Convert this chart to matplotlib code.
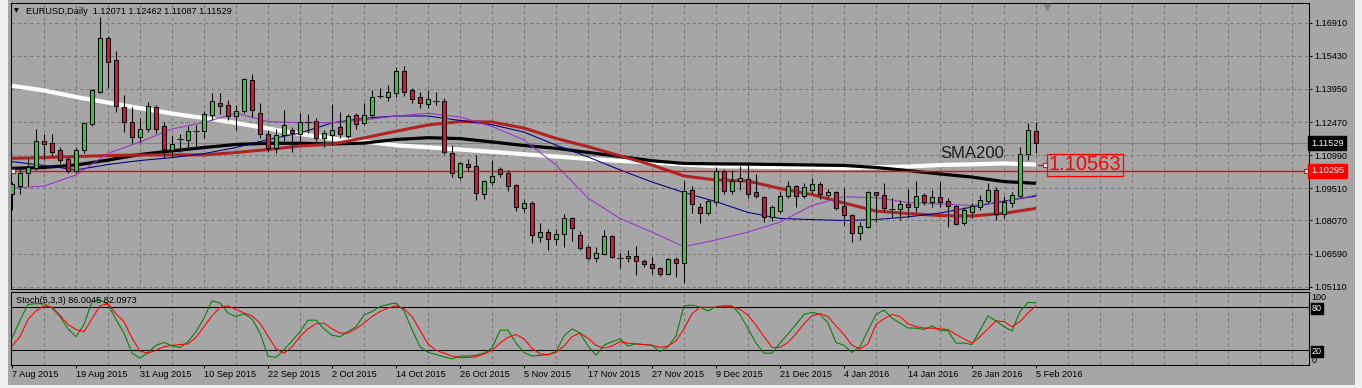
import matplotlib
matplotlib.use('Agg')
import matplotlib.pyplot as plt
from matplotlib.patches import Rectangle
import numpy as np

plt.rcParams['font.family'] = ['Liberation Sans', 'DejaVu Sans']

# EURUSD daily bars, 7 Aug 2015 .. 5 Feb 2016
opens = [1.0925, 1.0962, 1.1021, 1.1043, 1.1161, 1.1152, 1.1122, 1.1080, 1.1027, 1.1121,
         1.1240, 1.1380, 1.1621, 1.1523, 1.1313, 1.1246, 1.1179, 1.1215, 1.1313, 1.1228,
         1.1123, 1.1170, 1.1167, 1.1209, 1.1208, 1.1280, 1.1332, 1.1323, 1.1273, 1.1295,
         1.1434, 1.1286, 1.1192, 1.1130, 1.1188, 1.1210, 1.1195, 1.1249, 1.1250, 1.1177,
         1.1190, 1.1223, 1.1186, 1.1277, 1.1241, 1.1277, 1.1363, 1.1360, 1.1378, 1.1474,
         1.1389, 1.1358, 1.1329, 1.1342, 1.1340, 1.1107, 1.1003, 1.1058, 1.1049, 1.0924,
         1.0980, 1.1037, 1.1018, 1.0964, 1.0864, 1.0884, 1.0732, 1.0754, 1.0726, 1.0746,
         1.0817, 1.0741, 1.0687, 1.0641, 1.0658, 1.0736, 1.0641, 1.0638, 1.0648, 1.0626,
         1.0611, 1.0594, 1.0566, 1.0635, 1.0616, 1.0942, 1.0869, 1.0839, 1.0891, 1.1028,
         1.0940, 1.0985, 1.0992, 1.0934, 1.0911, 1.0824, 1.0851, 1.0915, 1.0960, 1.0915,
         1.0942, 1.0970, 1.0920, 1.0934, 1.0870, 1.0830, 1.0750, 1.0779, 1.0934, 1.0921,
         1.0860, 1.0858, 1.0881, 1.0866, 1.0920, 1.0891, 1.0911, 1.0894, 1.0873, 1.0794,
         1.0846, 1.0869, 1.0895, 1.0943, 1.0835, 1.0887, 1.0916, 1.1104, 1.12071]
highs = [1.0979, 1.1040, 1.1092, 1.1216, 1.1192, 1.1192, 1.1134, 1.1092, 1.1137, 1.1249,
         1.1393, 1.1715, 1.1632, 1.1566, 1.1368, 1.1313, 1.1264, 1.1335, 1.1323, 1.1246,
         1.1189, 1.1192, 1.1229, 1.1232, 1.1298, 1.1378, 1.1378, 1.1346, 1.1323, 1.1443,
         1.1462, 1.1331, 1.1211, 1.1216, 1.1301, 1.1226, 1.1286, 1.1283, 1.1264, 1.1211,
         1.1326, 1.1293, 1.1282, 1.1289, 1.1333, 1.1390, 1.1398, 1.1413, 1.1494, 1.1497,
         1.1398, 1.1380, 1.1390, 1.1380, 1.1353, 1.1144, 1.1070, 1.1080, 1.1100, 1.0988,
         1.1077, 1.1045, 1.1033, 1.0969, 1.0902, 1.0895, 1.0796, 1.0768, 1.0771, 1.0836,
         1.0821, 1.0760, 1.0697, 1.0687, 1.0764, 1.0742, 1.0660, 1.0675, 1.0693, 1.0633,
         1.0642, 1.0600, 1.0639, 1.0645, 1.0983, 1.0961, 1.0886, 1.0903, 1.1047, 1.1036,
         1.1033, 1.1050, 1.1055, 1.1015, 1.0916, 1.0876, 1.0940, 1.0985, 1.0966, 1.0973,
         1.0996, 1.0980, 1.0946, 1.0940, 1.0951, 1.0836, 1.0802, 1.0940, 1.0936, 1.0976,
         1.0906, 1.0899, 1.0948, 1.0985, 1.0931, 1.0943, 1.0980, 1.0906, 1.0876, 1.0866,
         1.0884, 1.0921, 1.0973, 1.0955, 1.0916, 1.0936, 1.1137, 1.1244, 1.12462]
lows = [1.0854, 1.0925, 1.0961, 1.1033, 1.1077, 1.1095, 1.1063, 1.1018, 1.1021, 1.1107,
        1.1231, 1.1375, 1.1399, 1.1293, 1.1204, 1.1155, 1.1159, 1.1204, 1.1197, 1.1088,
        1.1092, 1.1115, 1.1122, 1.1137, 1.1174, 1.1256, 1.1283, 1.1256, 1.1211, 1.1286,
        1.1271, 1.1174, 1.1114, 1.1107, 1.1164, 1.1114, 1.1152, 1.1197, 1.1159, 1.1137,
        1.1144, 1.1174, 1.1174, 1.1215, 1.1234, 1.1264, 1.1353, 1.1342, 1.1360, 1.1363,
        1.1333, 1.1308, 1.1308, 1.1323, 1.1103, 1.1000, 1.0991, 1.1029, 1.0899, 1.0903,
        1.0966, 1.1000, 1.0939, 1.0849, 1.0845, 1.0708, 1.0709, 1.0675, 1.0697, 1.0690,
        1.0715, 1.0675, 1.0630, 1.0620, 1.0653, 1.0641, 1.0596, 1.0620, 1.0563, 1.0600,
        1.0568, 1.0560, 1.0563, 1.0553, 1.0529, 1.0839, 1.0797, 1.0831, 1.0876, 1.0925,
        1.0925, 1.0943, 1.0906, 1.0906, 1.0802, 1.0806, 1.0839, 1.0906, 1.0869, 1.0906,
        1.0928, 1.0902, 1.0909, 1.0854, 1.0785, 1.0712, 1.0720, 1.0775, 1.0802, 1.0846,
        1.0821, 1.0809, 1.0824, 1.0846, 1.0876, 1.0869, 1.0869, 1.0779, 1.0787, 1.0787,
        1.0817, 1.0854, 1.0884, 1.0809, 1.0817, 1.0869, 1.0906, 1.1077, 1.11087]
closes = [1.0970, 1.1018, 1.1046, 1.1162, 1.1150, 1.1112, 1.1079, 1.1027, 1.1121, 1.1241,
          1.1389, 1.1621, 1.1514, 1.1317, 1.1246, 1.1181, 1.1216, 1.1317, 1.1216, 1.1125,
          1.1147, 1.1170, 1.1206, 1.1209, 1.1283, 1.1341, 1.1317, 1.1273, 1.1296, 1.1439,
          1.1300, 1.1192, 1.1132, 1.1189, 1.1232, 1.1197, 1.1247, 1.1249, 1.1177, 1.1197,
          1.1211, 1.1192, 1.1273, 1.1237, 1.1278, 1.1358, 1.1363, 1.1380, 1.1474, 1.1383,
          1.1349, 1.1331, 1.1349, 1.1342, 1.1112, 1.1018, 1.1063, 1.1047, 1.0928, 1.0983,
          1.1004, 1.1016, 1.0962, 1.0866, 1.0884, 1.0742, 1.0755, 1.0726, 1.0747, 1.0817,
          1.0772, 1.0684, 1.0641, 1.0660, 1.0736, 1.0645, 1.0641, 1.0647, 1.0625, 1.0611,
          1.0593, 1.0566, 1.0635, 1.0616, 1.0940, 1.0879, 1.0839, 1.0893, 1.1028, 1.0940,
          1.0982, 1.0997, 1.0927, 1.0915, 1.0824, 1.0866, 1.0915, 1.0960, 1.0915, 1.0955,
          1.0970, 1.0924, 1.0934, 1.0864, 1.0830, 1.0750, 1.0782, 1.0934, 1.0920, 1.0861,
          1.0860, 1.0881, 1.0866, 1.0915, 1.0891, 1.0911, 1.0891, 1.0873, 1.0790, 1.0854,
          1.0872, 1.0898, 1.0943, 1.0835, 1.0890, 1.0921, 1.1104, 1.1210, 1.11529]

# moving averages, read every 4th bar
ma_bars = list(range(0, 129, 4))
sma200 = [1.1409, 1.1388, 1.1359, 1.1334, 1.1309, 1.1285, 1.1265, 1.1243, 1.1218, 1.1194,
          1.1173, 1.1160, 1.1143, 1.1134, 1.1124, 1.1114, 1.1103, 1.1093, 1.1082, 1.1073,
          1.1066, 1.1057, 1.1050, 1.1048, 1.1046, 1.1045, 1.1042, 1.1045, 1.1048, 1.1055,
          1.1058, 1.1062, 1.1057]
ma_black = [1.1040, 1.1044, 1.1055, 1.1077, 1.1102, 1.1118, 1.1133, 1.1147, 1.1152, 1.1152,
            1.1149, 1.1153, 1.1169, 1.1177, 1.1173, 1.1158, 1.1142, 1.1130, 1.1111, 1.1093,
            1.1074, 1.1062, 1.1060, 1.1059, 1.1057, 1.1055, 1.1053, 1.1044, 1.1030, 1.1015,
            1.1001, 1.0981, 1.0973]
ma_red = [1.1085, 1.1088, 1.1093, 1.1097, 1.1100, 1.1100, 1.1100, 1.1111, 1.1124, 1.1140,
          1.1148, 1.1176, 1.1206, 1.1234, 1.1249, 1.1247, 1.1220, 1.1174, 1.1137, 1.1096,
          1.1055, 1.1006, 1.0988, 1.0983, 1.0950, 1.0923, 1.0885, 1.0849, 1.0838, 1.0829,
          1.0827, 1.0839, 1.0861]
ma_navy = [1.1070, 1.1053, 1.1033, 1.1057, 1.1075, 1.1088, 1.1106, 1.1133, 1.1169, 1.1198,
           1.1243, 1.1264, 1.1274, 1.1274, 1.1254, 1.1235, 1.1202, 1.1144, 1.1091, 1.1033,
           1.0979, 1.0932, 1.0891, 1.0843, 1.0816, 1.0811, 1.0807, 1.0811, 1.0823, 1.0840,
           1.0867, 1.0894, 1.0916]
ma_purple = [1.0951, 1.0961, 1.1010, 1.1107, 1.1158, 1.1216, 1.1245, 1.1287, 1.1249, 1.1244,
             1.1244, 1.1256, 1.1274, 1.1286, 1.1270, 1.1227, 1.1167, 1.1055, 1.0907, 1.0816,
             1.0755, 1.0690, 1.0720, 1.0755, 1.0800, 1.0874, 1.0913, 1.0909, 1.0887, 1.0881,
             1.0874, 1.0890, 1.0921]

# Stoch(5,3,3)
stoch_k = [37, 62, 84, 85, 85, 79, 67, 50, 39, 56, 88, 90, 84, 63, 44, 16, 9, 17, 27, 31,
           26, 24, 32, 46, 65, 89, 86, 72, 67, 71, 64, 44, 12, 10, 21, 33, 46, 62, 62, 50,
           41, 39, 46, 53, 69, 74, 81, 84, 86, 75, 49, 25, 17, 14, 11, 8, 12, 12, 13, 16,
           23, 48, 48, 30, 17, 12, 13, 14, 18, 40, 50, 44, 26, 13, 27, 32, 36, 26, 29, 28,
           27, 18, 25, 40, 82, 83, 80, 75, 81, 82, 82, 70, 50, 30, 16, 16, 30, 43, 56, 70,
           73, 70, 58, 31, 27, 17, 25, 48, 70, 76, 65, 58, 51, 51, 49, 54, 48, 47, 30, 30,
           28, 48, 68, 61, 53, 47, 74, 87, 86.0045]
stoch_d = [26, 39, 63, 75, 82, 80, 69, 56, 49, 46, 64, 82, 85, 71, 60, 37, 19, 16, 20, 25,
           27, 28, 29, 38, 53, 68, 80, 82, 77, 72, 68, 58, 40, 22, 16, 25, 39, 50, 57, 58,
           50, 44, 44, 50, 58, 67, 74, 79, 82, 78, 67, 48, 29, 20, 16, 12, 10, 10, 11, 15,
           20, 30, 38, 42, 36, 23, 15, 14, 17, 26, 39, 44, 37, 27, 23, 26, 32, 30, 29, 28,
           27, 24, 26, 33, 50, 71, 80, 80, 80, 81, 81, 77, 69, 55, 39, 24, 24, 31, 43, 57,
           68, 71, 67, 54, 42, 27, 22, 29, 56, 64, 70, 67, 57, 53, 51, 51, 50, 49, 42, 36,
           30, 39, 50, 61, 60, 53, 60, 72, 82.0973]

date_labels = ['7 Aug 2015', '19 Aug 2015', '31 Aug 2015', '10 Sep 2015', '22 Sep 2015',
               '2 Oct 2015', '14 Oct 2015', '26 Oct 2015', '5 Nov 2015', '17 Nov 2015',
               '27 Nov 2015', '9 Dec 2015', '21 Dec 2015', '4 Jan 2016', '14 Jan 2016',
               '26 Jan 2016', '5 Feb 2016']
price_ticks = [1.16910, 1.15430, 1.13950, 1.12470, 1.10990, 1.09510, 1.08070, 1.06590, 1.05110]
last_price = 1.11529
hline_price = 1.10295
sma200_label = 1.10563

BG = '#a6a6a6'
GRID = '#777777'
W, H = 1362, 388

fig = plt.figure(figsize=(W / 100, H / 100), dpi=100, facecolor=BG)
ax = fig.add_axes([11 / W, 1 - 289 / H, 1298 / W, 286 / H], facecolor=BG)
sx = fig.add_axes([11 / W, 1 - 365 / H, 1298 / W, 73.5 / H], facecolor=BG)

# window frame bits
fig.patches.append(Rectangle((0, 0), 8 / W, 1, transform=fig.transFigure, fc='#f0f0f0', ec='none'))
fig.patches.append(Rectangle((1355 / W, 0), 7 / W, 1, transform=fig.transFigure, fc='#f0f0f0', ec='none'))
fig.patches.append(Rectangle((0, 0), 1, 3 / H, transform=fig.transFigure, fc='#f0f0f0', ec='none'))

xlim = (-0.125, 162.125)
for a in (ax, sx):
    a.set_xlim(*xlim)
    for s in a.spines.values():
        s.set_color('black')
        s.set_linewidth(0.75)
    a.set_axisbelow(True)

# candles
x = np.arange(len(closes))
o, h, l, c = map(np.array, (opens, highs, lows, closes))
up, dn, eq = c > o, c < o, c == o
ax.vlines(x, l, h, color='black', lw=0.75, zorder=5)
ax.bar(x[up], (c - o)[up], bottom=o[up], width=0.6, color='#32cd32',
       edgecolor='black', linewidth=0.75, zorder=6)
ax.bar(x[dn], (o - c)[dn], bottom=c[dn], width=0.6, color='#dc143c',
       edgecolor='black', linewidth=0.75, zorder=6)
ax.hlines(o[eq], x[eq] - 0.32, x[eq] + 0.32, color='black', lw=0.75, zorder=6)

# moving averages
ax.plot(ma_bars, sma200, color='white', lw=3.0, zorder=3, solid_capstyle='butt')
ax.plot(ma_bars, ma_black, color='black', lw=2.3, zorder=3, solid_capstyle='butt')
ax.plot(ma_bars, ma_red, color='#b22222', lw=2.2, zorder=3, solid_capstyle='butt')
ax.plot(ma_bars, ma_navy, color='#000080', lw=0.75, zorder=4)
ax.plot(ma_bars, ma_purple, color='#9932cc', lw=0.75, zorder=4)

# bid line and horizontal level
ax.axhline(last_price, color='#808080', lw=0.75, zorder=2)
ax.axhline(hline_price, color='red', lw=1.0, zorder=4)
ax.plot([0.1, 161.75], [hline_price, hline_price], 's', ms=3.2, mfc='white', mec='red',
        mew=0.8, zorder=7, clip_on=False)

# SMA200 label
ax.text(116, 1.1086, 'SMA200', fontsize=12, color='#1e1e1e', va='baseline', ha='left', zorder=8)
ax.plot([128.2, 129.0], [sma200_label, sma200_label], color='red', lw=0.9, zorder=7)
ax.plot([129.1], [sma200_label], 's', ms=2.8, mfc='white', mec='red', mew=0.8, zorder=7)
ax.text(129.55, sma200_label, '%.5f' % sma200_label, fontsize=14.5, color='red',
        ha='left', va='center', zorder=8,
        bbox=dict(boxstyle='square,pad=0.08', fc='none', ec='red', lw=0.9))

# chart shift marker
ax.plot([129.4], [0.985], marker='v', ms=5, color='#7f7f7f',
        transform=ax.get_xaxis_transform(), clip_on=False, zorder=9)

# price axis
ax.set_ylim(1.05007, 1.17791)
ax.yaxis.tick_right()
ax.set_yticks(price_ticks)
ax.set_yticklabels(['%.5f' % p for p in price_ticks])
ax.tick_params(axis='y', direction='out', length=2.2, width=0.75, pad=2, labelsize=6.6,
               colors='black')
ax.set_xticks(range(4, 162, 4))
ax.tick_params(axis='x', length=0, labelbottom=False)
ax.grid(True, color=GRID, lw=0.75, linestyle=(0, (3, 3)))

for val, fc in ((last_price, 'black'), (hline_price, 'red')):
    ax.text(1.0015, val, '%.5f' % val, transform=ax.get_yaxis_transform(), fontsize=6.6,
            color='white', ha='left', va='center', zorder=10, clip_on=False,
            bbox=dict(boxstyle='square,pad=0.28', fc=fc, ec=fc))

ax.text(0.0045, 0.972, '\u25bc', transform=ax.transAxes, fontsize=4.5, ha='center',
        va='center', family='DejaVu Sans')
ax.text(0.0118, 0.972, 'EURUSD,Daily  1.12071 1.12462 1.11087 1.11529',
        transform=ax.transAxes, fontsize=6.6, ha='left', va='center')

# stochastic panel
sx.plot(x, stoch_k, color='#008000', lw=0.75, zorder=4)
sx.plot(x, stoch_d, color='red', lw=0.75, zorder=4)
sx.axhline(80, color='black', lw=0.75, zorder=3)
sx.axhline(20, color='black', lw=0.75, zorder=3)
sx.set_ylim(-0.5, 102)
sx.yaxis.tick_right()
sx.set_yticks([0, 20, 80, 100])
sx.set_yticklabels(['0', '20', '80', '100'])
sx.tick_params(axis='y', length=0, pad=2, labelsize=6.5, colors='black')
for lbl in sx.get_yticklabels():
    t = lbl.get_text()
    if t in ('20', '80'):
        lbl.set_color('white')
        lbl.set_bbox(dict(boxstyle='square,pad=0.12', fc='black', ec='black'))
    elif t == '100':
        lbl.set_va('top')
    else:
        lbl.set_va('bottom')

sx.set_xticks(range(0, 129, 8))
sx.set_xticklabels(date_labels, ha='left')
sx.set_xticks(range(4, 162, 4), minor=True)
sx.tick_params(axis='x', which='major', direction='out', length=2.2, width=0.75, pad=1.5,
               labelsize=6.6, colors='black')
sx.tick_params(axis='x', which='minor', length=0)
sx.grid(True, which='minor', axis='x', color=GRID, lw=0.75, linestyle=(0, (3, 3)))
sx.text(0.0035, 0.88, 'Stoch(5,3,3) %.4f %.4f' % (stoch_k[-1], stoch_d[-1]),
        transform=sx.transAxes, fontsize=6.6, ha='left', va='center', zorder=6)

fig.savefig('out.png', dpi=100, facecolor=BG)
